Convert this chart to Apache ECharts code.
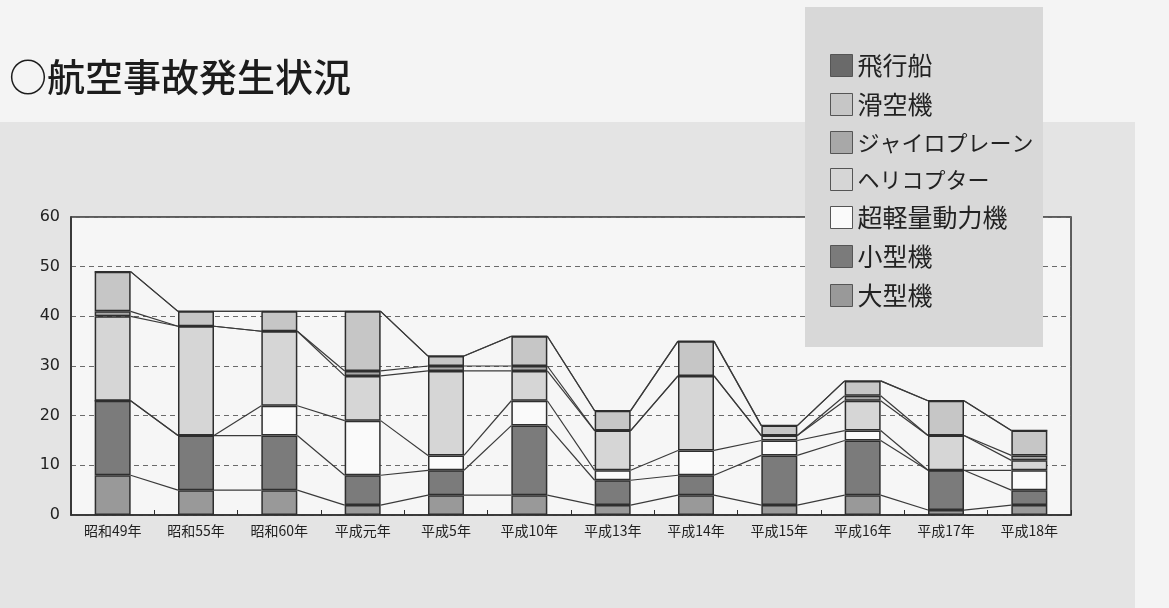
<!DOCTYPE html>
<html>
<head>
<meta charset="utf-8">
<script src="https://cdn.jsdelivr.net/npm/echarts@6/dist/echarts.min.js"></script>
<style>
html,body{margin:0;padding:0;background:#f3f3f3;}
#chart{width:1169px;height:608px;}
</style>
</head>
<body>
<div id="chart"></div>
<script>
// ---- data ----
var categories = ['昭和49年','昭和55年','昭和60年','平成元年','平成5年','平成10年','平成13年','平成14年','平成15年','平成16年','平成17年','平成18年'];
var largePlane   = [8, 5, 5, 2, 4, 4, 2, 4, 2, 4, 1, 2];      // 大型機
var smallPlane   = [15, 11, 11, 6, 5, 14, 5, 4, 10, 11, 8, 3]; // 小型機
var ultralight   = [0, 0, 6, 11, 3, 5, 2, 5, 3, 2, 0, 4];     // 超軽量動力機
var helicopter   = [17, 22, 15, 9, 17, 6, 8, 15, 1, 6, 7, 2]; // ヘリコプター
var gyroplane    = [1, 0, 0, 1, 1, 1, 0, 0, 0, 1, 0, 1];      // ジャイロプレーン
var glider       = [8, 3, 4, 12, 2, 6, 4, 7, 2, 3, 7, 5];     // 滑空機
var airship      = [0, 0, 0, 0, 0, 0, 0, 0, 0, 0, 0, 0];      // 飛行船
var yTicks = [0, 10, 20, 30, 40, 50, 60];
var legendOrder = ['飛行船','滑空機','ジャイロプレーン','ヘリコプター','超軽量動力機','小型機','大型機'];

var seriesDefs = [
  {name:'大型機', data: largePlane, color:'#999999'},
  {name:'小型機', data: smallPlane, color:'#7b7b7b'},
  {name:'超軽量動力機', data: ultralight, color:'#fafafa'},
  {name:'ヘリコプター', data: helicopter, color:'#d6d6d6'},
  {name:'ジャイロプレーン', data: gyroplane, color:'#a8a8a8'},
  {name:'滑空機', data: glider, color:'#c6c6c6'},
  {name:'飛行船', data: airship, color:'#6a6a6a'}
];

// cumulative levels for connector lines
var connectorData = [];
var cum = categories.map(function(){return 0;});
seriesDefs.forEach(function(s){
  cum = cum.map(function(c, i){ return c + s.data[i]; });
  for (var i = 0; i < categories.length - 1; i++) {
    connectorData.push([i, cum[i], i + 1, cum[i + 1]]);
  }
});

var BAR_W = 36;
var series = seriesDefs.map(function(s){
  return {
    name: s.name,
    type: 'bar',
    stack: 'total',
    barWidth: BAR_W,
    data: s.data,
    itemStyle: {color: s.color, borderColor: '#2e2e2e', borderWidth: 1.5},
    emphasis: {disabled: true},
    z: 2
  };
});
series.push({
  type: 'custom',
  name: 'connectors',
  silent: true,
  z: 2,
  data: connectorData,
  renderItem: function(params, api){
    var p1 = api.coord([api.value(0), api.value(1)]);
    var p2 = api.coord([api.value(2), api.value(3)]);
    return {
      type: 'line',
      shape: {x1: p1[0] + BAR_W/2, y1: p1[1], x2: p2[0] - BAR_W/2, y2: p2[1]},
      style: {stroke: '#3a3a3a', lineWidth: 1.2}
    };
  }
});

var chart = echarts.init(document.getElementById('chart'));
chart.setOption({
  animation: false,
  backgroundColor: 'transparent',
  graphic: [
    {type:'rect', z:-100, silent:true, shape:{x:0,y:0,width:1169,height:608}, style:{fill:'#f4f4f4'}},
    {type:'rect', z:-99, silent:true, shape:{x:0,y:122,width:1135,height:486}, style:{fill:'#e4e4e4'}},
    {type:'rect', z:5, silent:true, shape:{x:805,y:7,width:238,height:340}, style:{fill:'#d8d8d8'}}
  ],
  title: {
    text: '○航空事故発生状況',
    left: 4, top: 53,
    textStyle: {fontSize: 38, fontWeight: 500, color: '#1c1c1c', fontFamily: 'Noto Sans CJK JP'}
  },
  legend: {
    orient: 'vertical',
    left: 830, top: 53,
    padding: 0,
    itemWidth: 22, itemHeight: 22, itemGap: 14,
    icon: 'rect',
    selectedMode: false,
    data: legendOrder,
    formatter: function(name){
      return /[ァ-ヶー]/.test(name) ? '{k|' + name + '}' : '{c|' + name + '}';
    },
    textStyle: {
      color: '#222', fontFamily: 'Noto Sans CJK JP', lineHeight: 22, height: 22,
      rich: {
        k: {fontSize: 22, lineHeight: 22, height: 22, color: '#222', fontFamily: 'Noto Sans CJK JP'},
        c: {fontSize: 25, lineHeight: 22, height: 22, color: '#222', fontFamily: 'Noto Sans CJK JP'}
      }
    },
    itemStyle: {borderColor: '#555', borderWidth: 1},
    z: 10
  },
  grid: {
    left: 71, right: 98, top: 217, bottom: 93,
    show: true, backgroundColor: '#f6f6f6', borderColor: '#2e2e2e', borderWidth: 1.5
  },
  xAxis: {
    type: 'category',
    data: categories,
    axisLine: {lineStyle: {color: '#2e2e2e', width: 1.5}},
    axisTick: {show: true, inside: true, length: 5, lineStyle: {color: '#2e2e2e'}},
    axisLabel: {margin: 9, fontSize: 14, color: '#222', fontFamily: 'Noto Sans CJK JP'}
  },
  yAxis: {
    type: 'value',
    min: yTicks[0], max: yTicks[yTicks.length - 1], interval: 10,
    axisLine: {show: true, lineStyle: {color: '#2e2e2e', width: 1.5}},
    axisTick: {show: false},
    axisLabel: {margin: 11, fontSize: 16, color: '#222', fontFamily: 'DejaVu Sans'},
    splitLine: {show: true, lineStyle: {color: '#6a6a6a', type: [5, 4], width: 1}}
  },
  series: series
});
</script>
</body>
</html>
